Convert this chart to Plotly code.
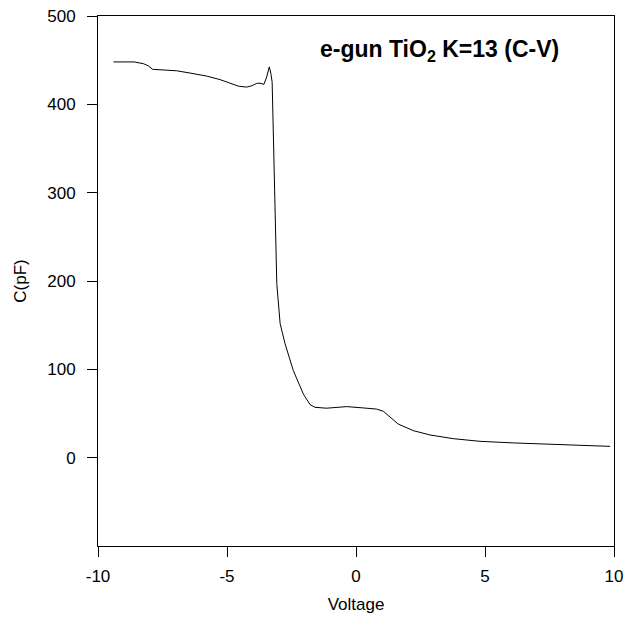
import plotly.graph_objects as go

voltage = [-9.4, -8.6, -8.24, -8.05, -7.88, -7.53, -6.95, -6.43, -5.79, -5.27, -4.88, -4.56,
           -4.24, -4.04, -3.85, -3.72, -3.57, -3.46, -3.36, -3.30, -3.25, -3.20, -3.14, -3.07,
           -2.94, -2.75, -2.43, -2.04, -1.78, -1.59, -1.14, -0.75, -0.62, -0.36, 0.28, 0.80,
           1.06, 1.32, 1.64, 2.22, 2.87, 3.77, 4.81, 6.10, 7.39, 8.68, 9.85]
capacitance = [448, 448, 446, 443.6, 439.6, 439, 438, 435.4, 432, 428, 423.7, 420.6,
               419.5, 421, 423.7, 424, 422.6, 431, 442.4, 435, 425, 360, 291, 197,
               151.6, 129, 98.6, 72, 60, 57, 56, 57, 57.8, 57.8, 56.3, 55,
               52.5, 45.7, 38, 30.6, 25.7, 21.5, 18.5, 16.7, 15.1, 14, 12.8]

x_ticks = [-10, -5, 0, 5, 10]
x_tick_labels = ["-10", "-5", "0", "5", "10"]
y_ticks = [0, 100, 200, 300, 400, 500]
y_tick_labels = ["0", "100", "200", "300", "400", "500"]

FONT = "Liberation Sans, Arial"

fig = go.Figure()
fig.add_trace(go.Scatter(x=voltage, y=capacitance, mode="lines",
                         line=dict(color="black", width=1), showlegend=False))

fig.add_annotation(text="<b>e-gun TiO<sub>2</sub> K=13 (C-V)</b>",
                   x=0.661, y=0.934, xref="paper", yref="paper",
                   xanchor="center", yanchor="middle", showarrow=False,
                   font=dict(family=FONT, size=23, color="black"))

axis_common = dict(showgrid=False, zeroline=False, showline=True, linecolor="black",
                   linewidth=1, mirror=True, ticks="outside", ticklen=10,
                   tickcolor="black", tickwidth=1, automargin=False,
                   tickfont=dict(family=FONT, size=17, color="black"),
                   title_font=dict(family=FONT, size=17, color="black"))

fig.update_xaxes(range=[-10, 10], tickvals=x_ticks, ticktext=x_tick_labels,
                 title_text="Voltage", title_standoff=12, ticklabelstandoff=5,
                 **axis_common)
fig.update_yaxes(range=[-100, 500], tickvals=y_ticks, ticktext=y_tick_labels,
                 title_text="C(pF)", title_standoff=16, ticklabelstandoff=8,
                 **axis_common)

fig.update_layout(width=632, height=622, plot_bgcolor="white", paper_bgcolor="white",
                  margin=dict(l=98, r=18, t=16, b=76),
                  font=dict(family=FONT, color="black"))

fig.write_html("out.html")
